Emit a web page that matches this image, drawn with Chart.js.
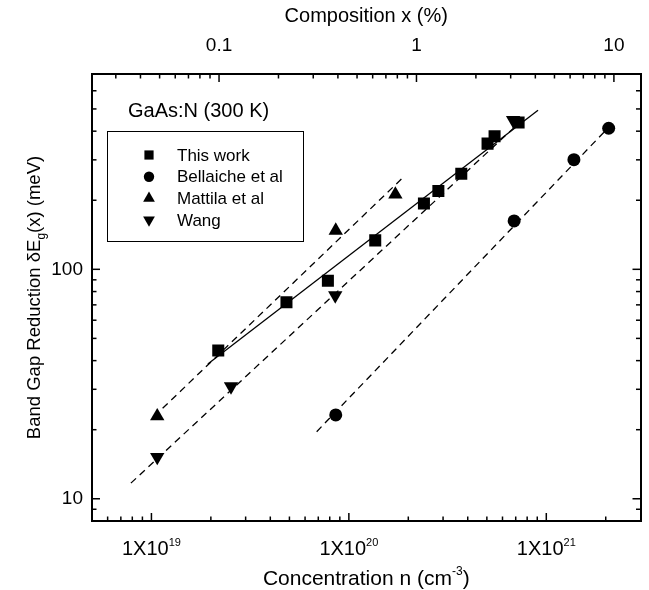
<!DOCTYPE html>
<html>
<head>
<meta charset="utf-8">
<script src="https://cdn.jsdelivr.net/npm/chart.js@4.4.1/dist/chart.umd.min.js"></script>
<style>
  html, body { margin: 0; padding: 0; background: #fff; }
  #wrap { width: 649px; height: 590px; }
</style>
</head>
<body>
<div id="wrap"><canvas id="gapChart"></canvas></div>
<script>
// nitrogen concentration n (cm^-3) and band gap reduction (meV)
const thisWorkN = [2.18e19, 4.83e19, 7.83e19, 1.36e20, 2.40e20, 2.84e20, 3.71e20, 5.04e20, 5.47e20, 7.24e20];
const thisWorkE = [44.3, 71.9, 89.2, 133.7, 193.6, 219.2, 261, 353, 380, 436];
const bellaicheN = [8.58e19, 6.87e20, 1.38e21, 2.07e21];
const bellaicheE = [23.2, 162.5, 300.6, 412];
const mattilaN = [1.07e19, 8.58e19, 1.72e20];
const mattilaE = [22.9, 147.6, 212];
const wangN = [1.07e19, 2.53e19, 8.53e19, 6.79e20];
const wangE = [15.2, 30.9, 76.9, 447];

// fitted lines (end points)
const thisWorkFitN = [1.93e19, 9.08e20];
const thisWorkFitE = [38.7, 493];
const mattilaFitN = [1.03e19, 1.91e20];
const mattilaFitE = [22.8, 254.5];
const wangFitN = [7.87e18, 7.8e20];
const wangFitE = [11.7, 459];
const bellaicheFitN = [6.87e19, 2.07e21];
const bellaicheFitE = [19.6, 416];

const legendLabels = ["This work", "Bellaiche et al", "Mattila et al", "Wang"];
const xMajorTicks = [1e19, 1e20, 1e21];
const xTickExp = ["19", "20", "21"];
const yMajorTicks = [10, 100];
const yTickLabels = ["10", "100"];
const topMajorTicks = [0.1, 1, 10];
const topTickLabels = ["0.1", "1", "10"];

const xMin = 5e18, xMax = 3e21;
const yMin = 8, yMax = 710;
const nPerPercent = 2.2e20;

const FONT = '"Liberation Sans", Arial, sans-serif';

function pts(xs, ys) {
    return xs.map((x, i) => ({ x: x, y: ys[i] }));
}

function logTicks(min, max) {
    const out = [];
    for (let e = Math.floor(Math.log10(min)); e <= Math.ceil(Math.log10(max)); e++) {
        for (let m = 1; m < 10; m++) {
            const v = m * Math.pow(10, e);
            if (v >= min * 0.999 && v <= max * 1.001) out.push({ value: v, major: m === 1 });
        }
    }
    return out;
}

function labelFor(v, majors, labels) {
    const i = majors.findIndex(t => Math.abs(t - v) / t < 1e-6);
    return i < 0 ? '' : labels[i];
}

function markerSet(label, xs, ys, style, radius, rotation) {
    return {
        label: label,
        data: pts(xs, ys),
        pointStyle: style,
        pointRadius: radius,
        pointRotation: rotation || 0,
        pointBackgroundColor: '#000',
        pointBorderWidth: 0,
        showLine: false
    };
}

function fitLine(xs, ys, dashed) {
    return {
        data: pts(xs, ys),
        showLine: true,
        borderColor: '#000',
        borderWidth: 1.3,
        borderDash: dashed ? [7, 5] : [],
        pointRadius: 0
    };
}

// rich text: parts of [text, size, dy]
function drawParts(ctx, parts, cx, baseline) {
    let total = 0;
    parts.forEach(p => { ctx.font = p[1] + 'px ' + FONT; total += ctx.measureText(p[0]).width; });
    let x = cx - total / 2;
    parts.forEach(p => {
        ctx.font = p[1] + 'px ' + FONT;
        ctx.fillText(p[0], x, baseline + p[2]);
        x += ctx.measureText(p[0]).width;
    });
}

const frameDecor = {
    id: 'frameDecor',
    afterDraw(chart) {
        const ctx = chart.ctx, a = chart.chartArea, s = chart.scales;
        ctx.save();
        ctx.strokeStyle = '#000';
        ctx.fillStyle = '#000';
        ctx.lineWidth = 1.5;

        // inward ticks on all four sides
        [['x', 'bottom'], ['xTop', 'top'], ['y', 'left'], ['yRight', 'right']].forEach(([id, side]) => {
            const sc = s[id];
            sc.ticks.forEach(t => {
                const p = sc.getPixelForValue(t.value);
                const len = t.major ? 8 : 4.5;
                ctx.beginPath();
                if (side === 'bottom' || side === 'top') {
                    if (p < a.left + 2 || p > a.right - 2) return;
                    const y0 = side === 'bottom' ? a.bottom : a.top;
                    ctx.moveTo(p, y0);
                    ctx.lineTo(p, side === 'bottom' ? y0 - len : y0 + len);
                } else {
                    if (p < a.top + 2 || p > a.bottom - 2) return;
                    const x0 = side === 'left' ? a.left : a.right;
                    ctx.moveTo(x0, p);
                    ctx.lineTo(side === 'left' ? x0 + len : x0 - len, p);
                }
                ctx.stroke();
            });
        });

        // bottom tick labels 1X10^n
        ctx.textBaseline = 'alphabetic';
        xMajorTicks.forEach((v, i) => {
            const px = s.x.getPixelForValue(v);
            drawParts(ctx, [['1X10', 20, 0], [xTickExp[i], 11, -9]], px, 555);
        });

        // x title
        drawParts(ctx, [['Concentration n (cm', 21, 0], ['-3', 12, -10], [')', 21, 0]], (a.left + a.right) / 2, 585);

        // y title
        ctx.save();
        ctx.translate(40, (a.top + a.bottom) / 2);
        ctx.rotate(-Math.PI / 2);
        drawParts(ctx, [['Band Gap Reduction \u03B4E', 18.5, 0], ['g', 12, 5], ['(x) (meV)', 18.5, 0]], 0, 0);
        ctx.restore();

        // sample label
        ctx.font = '20px ' + FONT;
        ctx.textAlign = 'left';
        ctx.fillText('GaAs:N (300 K)', 128, 117);

        // legend box
        ctx.lineWidth = 1;
        ctx.strokeRect(107.5, 131.5, 196, 110);
        const styles = [['rect', 6.5, 0], ['circle', 5.2, 0], ['triangle', 6.8, 0], ['triangle', 6.8, 180]];
        const rows = [155, 176.7, 198.3, 220];
        ctx.font = '17px ' + FONT;
        ctx.textBaseline = 'middle';
        legendLabels.forEach((lab, i) => {
            const st = styles[i];
            Chart.helpers.drawPoint(ctx, { pointStyle: st[0], radius: st[1], rotation: st[2], borderWidth: 0 }, 149, rows[i]);
            ctx.fillStyle = '#000';
            ctx.fillText(lab, 177, rows[i] + 1);
        });
        ctx.restore();
    }
};

const axisBase = {
    type: 'logarithmic',
    bounds: 'data',
    grid: { display: false, drawTicks: false },
    border: { display: true, color: '#000', width: 2 }
};

document.addEventListener("DOMContentLoaded", () => {
    const ctx = document.getElementById("gapChart").getContext("2d");
    new Chart(ctx, {
        type: 'scatter',
        data: {
            datasets: [
                markerSet(legendLabels[0], thisWorkN, thisWorkE, 'rect', 8.5),
                markerSet(legendLabels[1], bellaicheN, bellaicheE, 'circle', 6.5),
                markerSet(legendLabels[2], mattilaN, mattilaE, 'triangle', 8.3),
                markerSet(legendLabels[3], wangN, wangE, 'triangle', 8.3, 180),
                fitLine(thisWorkFitN, thisWorkFitE, false),
                fitLine(mattilaFitN, mattilaFitE, true),
                fitLine(wangFitN, wangFitE, true),
                fitLine(bellaicheFitN, bellaicheFitE, true)
            ]
        },
        options: {
            responsive: true,
            maintainAspectRatio: false,
            animation: false,
            events: [],
            layout: { padding: 0 },
            plugins: { legend: { display: false }, tooltip: { enabled: false } },
            scales: {
                x: Object.assign({}, axisBase, {
                    position: 'bottom', min: xMin, max: xMax,
                    ticks: { display: false },
                    afterBuildTicks: sc => { sc.ticks = logTicks(xMin, xMax); },
                    afterFit: sc => { sc.height = 69; }
                }),
                xTop: Object.assign({}, axisBase, {
                    position: 'top', display: true,
                    min: xMin / nPerPercent, max: xMax / nPerPercent,
                    afterBuildTicks: sc => { sc.ticks = logTicks(xMin / nPerPercent, xMax / nPerPercent); },
                    ticks: {
                        autoSkip: false, maxRotation: 0, padding: 17, color: '#000',
                        font: { family: FONT, size: 19 },
                        callback: v => labelFor(v, topMajorTicks, topTickLabels)
                    },
                    title: {
                        display: true, text: 'Composition x (%)', color: '#000',
                        font: { family: FONT, size: 20 }, padding: { top: 4, bottom: 4 }
                    },
                    afterFit: sc => { sc.height = 74; }
                }),
                y: Object.assign({}, axisBase, {
                    position: 'left', min: yMin, max: yMax,
                    afterBuildTicks: sc => { sc.ticks = logTicks(yMin, yMax); },
                    ticks: {
                        autoSkip: false, padding: 9, color: '#000',
                        font: { family: FONT, size: 19 },
                        callback: v => labelFor(v, yMajorTicks, yTickLabels)
                    },
                    afterFit: sc => { sc.width = 92; }
                }),
                yRight: Object.assign({}, axisBase, {
                    position: 'right', display: true, min: yMin, max: yMax,
                    afterBuildTicks: sc => { sc.ticks = logTicks(yMin, yMax); },
                    ticks: { display: false },
                    afterFit: sc => { sc.height = sc.height; sc.width = 6; }
                })
            }
        },
        plugins: [frameDecor]
    });
});
</script>
</body>
</html>
